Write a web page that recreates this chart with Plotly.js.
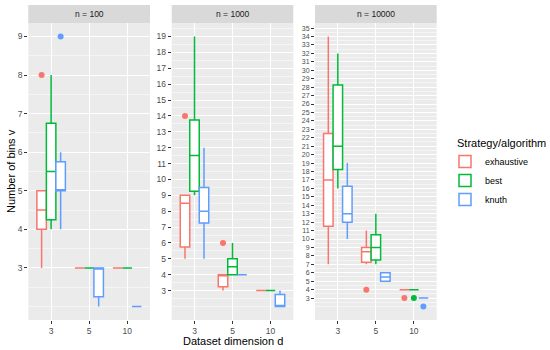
<!DOCTYPE html>
<html>
<head>
<meta charset="utf-8">
<script src="https://cdn.plot.ly/plotly-3.0.1.min.js"></script>
<style>html,body{margin:0;padding:0;background:#fff;}#chart{width:550px;height:350px;}</style>
</head>
<body>
<div id="chart"></div>
<script>
// ---- data ----
var dims = ['3', '5', '10'];
var strategies = ['exhaustive', 'best', 'knuth'];
var panels = ['n = 100', 'n = 1000', 'n = 10000'];

// n = 100
var ex100_q1 = [4, 3, 3],      ex100_med = [4.5, 3, 3],  ex100_q3 = [5, 3, 3],      ex100_lo = [3, 3, 3],  ex100_hi = [5, 3, 3],   ex100_out = [[8], [], []];
var be100_q1 = [4.25, 3, 3],   be100_med = [5.5, 3, 3],  be100_q3 = [6.75, 3, 3],   be100_lo = [4, 3, 3],  be100_hi = [8, 3, 3],   be100_out = [[], [], []];
var kn100_q1 = [5, 2.25, 2],   kn100_med = [5, 3, 2],    kn100_q3 = [5.75, 3, 2],   kn100_lo = [4, 2, 2],  kn100_hi = [6, 3, 2],   kn100_out = [[9], [], []];
// n = 1000
var ex1000_q1 = [5.75, 3.25, 3], ex1000_med = [8.5, 4, 3],  ex1000_q3 = [9, 4, 3],      ex1000_lo = [5, 3, 3], ex1000_hi = [9, 4, 3],  ex1000_out = [[14], [6], []];
var be1000_q1 = [9.25, 4, 3],    be1000_med = [11.5, 4.5, 3], be1000_q3 = [13.75, 5, 3], be1000_lo = [9, 4, 3], be1000_hi = [19, 6, 3], be1000_out = [[], [], []];
var kn1000_q1 = [7.25, 4, 2],    kn1000_med = [8, 4, 2],    kn1000_q3 = [9.5, 4, 2.75],  kn1000_lo = [5, 4, 2], kn1000_hi = [12, 4, 3], kn1000_out = [[], [], []];
// n = 10000
var ex10000_q1 = [11.5, 7.25, 4], ex10000_med = [17, 8.5, 4], ex10000_q3 = [22.5, 9, 4],   ex10000_lo = [7, 7, 4],  ex10000_hi = [34, 11, 4], ex10000_out = [[], [4], [3]];
var be10000_q1 = [18.25, 7.5, 4], be10000_med = [21, 9, 4],   be10000_q3 = [28.25, 10.5, 4], be10000_lo = [16, 7, 4], be10000_hi = [32, 13, 4], be10000_out = [[], [], [3]];
var kn10000_q1 = [12, 5, 3],      kn10000_med = [13, 5.5, 3], kn10000_q3 = [16.25, 6, 3],  kn10000_lo = [10, 5, 3], kn10000_hi = [19, 6, 3],  kn10000_out = [[], [], [2]];

var yTicks100 = [3, 4, 5, 6, 7, 8, 9];
var yTicks1000 = [3, 4, 5, 6, 7, 8, 9, 10, 11, 12, 13, 14, 15, 16, 17, 18, 19];
var yTicks10000 = [3, 4, 5, 6, 7, 8, 9, 10, 11, 12, 13, 14, 15, 16, 17, 18, 19, 20, 21, 22, 23, 24, 25, 26, 27, 28, 29, 30, 31, 32, 33, 34, 35];
var yRange100 = [2, 9], yRange1000 = [2, 19], yRange10000 = [2, 34];

// ---- styling ----
var colors = ['#F8766D', '#00BA38', '#619CFF'];
var FONT = 'Liberation Sans, Arial, Helvetica, sans-serif';

var stats = [
  [[ex100_q1, ex100_med, ex100_q3, ex100_lo, ex100_hi, ex100_out],
   [be100_q1, be100_med, be100_q3, be100_lo, be100_hi, be100_out],
   [kn100_q1, kn100_med, kn100_q3, kn100_lo, kn100_hi, kn100_out]],
  [[ex1000_q1, ex1000_med, ex1000_q3, ex1000_lo, ex1000_hi, ex1000_out],
   [be1000_q1, be1000_med, be1000_q3, be1000_lo, be1000_hi, be1000_out],
   [kn1000_q1, kn1000_med, kn1000_q3, kn1000_lo, kn1000_hi, kn1000_out]],
  [[ex10000_q1, ex10000_med, ex10000_q3, ex10000_lo, ex10000_hi, ex10000_out],
   [be10000_q1, be10000_med, be10000_q3, be10000_lo, be10000_hi, be10000_out],
   [kn10000_q1, kn10000_med, kn10000_q3, kn10000_lo, kn10000_hi, kn10000_out]]
];

// Plotly needs a non-empty row for every box's sample list; null = "no outlier"
function pts(list) { return list.map(function (a) { return a.length ? a : [null]; }); }

var traces = [];
for (var p = 0; p < 3; p++) {
  var sfx = p === 0 ? '' : String(p + 1);
  for (var s = 0; s < 3; s++) {
    var st = stats[p][s];
    traces.push({
      type: 'box',
      name: strategies[s],
      legendgroup: strategies[s],
      showlegend: p === 0,
      xaxis: 'x' + sfx,
      yaxis: 'y' + sfx,
      alignmentgroup: 'panel' + p,
      offsetgroup: strategies[s],
      x: dims,
      q1: st[0], median: st[1], q3: st[2], lowerfence: st[3], upperfence: st[4],
      y: pts(st[5]),
      boxpoints: 'outliers',
      jitter: 0,
      pointpos: 0,
      whiskerwidth: 0,
      fillcolor: 'white',
      line: {color: colors[s], width: 1.5},
      marker: {color: colors[s], size: 6, line: {width: 0}},
      hoverinfo: 'skip'
    });
  }
}

function expRange(r) { var d = (r[1] - r[0]) * 0.05; return [r[0] - d, r[1] + d]; }
function minorVals(ticks, r) {
  var out = [];
  for (var v = ticks[0] - 1; v <= ticks[ticks.length - 1] + 1 + 1e-9; v += 0.5) {
    if (v >= r[0] && v <= r[1]) out.push(v);
  }
  return out;
}

var W = 550, H = 350;
var xDomains = [[28.3, 150], [171.7, 293.3], [315, 436.7]];
var plotTop = 23, plotBot = 320;
var yTicksAll = [yTicks100, yTicks1000, yTicks10000];
var yRangesAll = [yRange100, yRange1000, yRange10000];
var yTickSize = [8.5, 8.5, 7];

var layout = {
  width: W, height: H,
  margin: {l: 0, r: 0, t: 0, b: 0},
  paper_bgcolor: 'white',
  plot_bgcolor: '#EBEBEB',
  font: {family: FONT, color: '#000'},
  boxmode: 'group',
  boxgap: 0.25,
  boxgroupgap: 0,
  showlegend: true,
  legend: {
    x: 445 / W, y: (H - 147) / H, xanchor: 'left', yanchor: 'top',
    bgcolor: 'rgba(0,0,0,0)',
    font: {size: 9, color: '#000'},
    tracegroupgap: 0
  },
  shapes: [],
  annotations: []
};

for (var p = 0; p < 3; p++) {
  var sfx = p === 0 ? '' : String(p + 1);
  var r = expRange(yRangesAll[p]);
  layout['xaxis' + sfx] = {
    domain: [xDomains[p][0] / W, xDomains[p][1] / W],
    anchor: 'y' + sfx,
    type: 'category',
    categoryorder: 'array', categoryarray: dims,
    range: [-0.6, 2.6],
    showgrid: true, gridcolor: 'white', gridwidth: 1,
    zeroline: false, showline: false,
    ticks: 'outside', ticklen: 3, tickwidth: 1, tickcolor: '#333333',
    tickfont: {size: 8.5, color: '#4D4D4D', family: FONT}
  };
  layout['yaxis' + sfx] = {
    domain: [(H - plotBot) / H, (H - plotTop) / H],
    anchor: 'x' + sfx,
    range: r,
    tickmode: 'array', tickvals: yTicksAll[p],
    showgrid: true, gridcolor: 'white', gridwidth: 1,
    minor: {tickmode: 'array', tickvals: minorVals(yTicksAll[p], r), showgrid: true, gridcolor: 'white', gridwidth: 0.5, ticklen: 0},
    zeroline: false, showline: false,
    ticks: 'outside', ticklen: 3, tickwidth: 1, tickcolor: '#333333',
    tickfont: {size: yTickSize[p], color: '#4D4D4D', family: FONT}
  };
  layout.shapes.push({
    type: 'rect', xref: 'x' + sfx + ' domain', yref: 'paper',
    x0: 0, x1: 1, y0: (H - plotTop) / H, y1: (H - 5) / H,
    fillcolor: '#D9D9D9', line: {width: 0}, layer: 'below'
  });
  layout.annotations.push({
    xref: 'x' + sfx + ' domain', yref: 'paper', x: 0.5, y: (H - 14) / H,
    xanchor: 'center', yanchor: 'middle', showarrow: false,
    text: panels[p], font: {size: 8.5, color: '#1A1A1A', family: FONT}
  });
}

layout.annotations.push({
  xref: 'paper', yref: 'paper', x: 455 / W, y: (H - 143) / H,
  xanchor: 'left', yanchor: 'middle', showarrow: false,
  text: 'Strategy/algorithm', font: {size: 11, color: '#000', family: FONT}
});
layout.annotations.push({
  xref: 'paper', yref: 'paper', x: 232.5 / W, y: (H - 341) / H,
  xanchor: 'center', yanchor: 'middle', showarrow: false,
  text: 'Dataset dimension d', font: {size: 11, color: '#000', family: FONT}
});
layout.annotations.push({
  xref: 'paper', yref: 'paper', x: 11 / W, y: (H - 171) / H,
  xanchor: 'center', yanchor: 'middle', showarrow: false, textangle: -90,
  text: 'Number of bins v', font: {size: 11, color: '#000', family: FONT}
});

Plotly.newPlot('chart', traces, layout, {displayModeBar: false, staticPlot: true});
</script>
</body>
</html>
